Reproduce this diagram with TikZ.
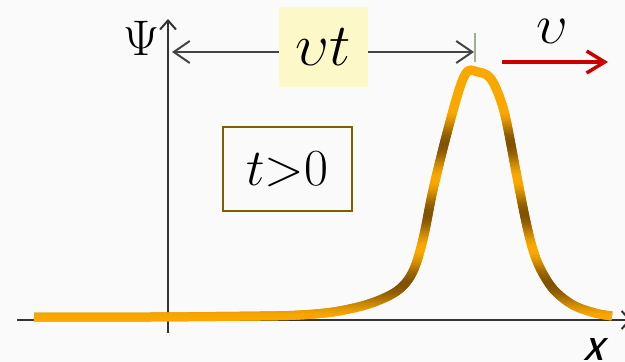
\RequirePackage{fix-cm}
\documentclass[tikz,border=0pt]{standalone}
\usepackage{fontspec}
\newfontfamily\calibi{Carlito}[FakeSlant=0.28]
\usetikzlibrary{arrows.meta}
\definecolor{bg}{RGB}{250,250,250}
\definecolor{axisc}{RGB}{51,51,51}
\definecolor{dimc}{RGB}{68,68,68}
\definecolor{tickc}{RGB}{160,176,140}
\definecolor{vtbg}{RGB}{253,248,200}
\definecolor{boxc}{RGB}{127,96,0}
\definecolor{redc}{RGB}{204,0,0}
\definecolor{bright}{RGB}{250,168,0}
\definecolor{dkbrown}{RGB}{128,82,0}
\tikzset{
  axisline/.style={draw=axisc, line width=2pt},
  dimline/.style={draw=dimc, line width=2pt},
  wave/.style={line width=9pt, line join=round, line cap=butt},
  wavepath/.style={insert path={plot[smooth, tension=0.55] coordinates {
    (34,317) (150,317) (260,316) (300,315) (333,312) (362,306) (382,299) (397,291)
    (408,280) (416,264) (424,235) (433,190) (447,133) (460,87) (468,71) (478,72) (487,75) (495,86)
    (505,115) (517,177) (526,222) (533,250) (541,270) (554,290) (573,305) (595,313) (612,316)}}}
}
\begin{document}
\begin{tikzpicture}[x=1pt, y=-1pt]
\fill[bg] (0,0) rectangle (625,362);
\useasboundingbox (0,0) rectangle (625,362);

% axes
\coordinate (xs) at (17,320);
\coordinate (xe) at (631,320);
\coordinate (ys) at (168,333);
\coordinate (ye) at (168,19);
\draw[axisline, -{Straight Barb[length=8pt, width=18pt]}] (xs) -- (xe);
\draw[axisline, -{Straight Barb[length=9pt, width=16pt]}] (ys) -- (ye);
\node[inner sep=0pt] (psi) at (141,38) {\fontsize{50}{54}\selectfont $\Psi$};
\node[inner sep=0pt] (xl) at (593,350) {\fontsize{46}{50}\selectfont\calibi x};

% dimension arrow
\coordinate (da) at (172,52);
\coordinate (db) at (474,52);
\draw[dimline, {Straight Barb[length=16pt, width=22pt]}-{Straight Barb[length=16pt, width=22pt]}] (da) -- (db);
\coordinate (ta) at (475,33);
\coordinate (tb) at (475,62);
\draw[draw=tickc, line width=1.6pt] (ta) -- (tb);
\node[fill=vtbg, inner sep=0pt, minimum width=89pt, minimum height=80pt] (vt) at (323.5,47)
  {\fontsize{60}{62}\selectfont $\upsilon t$};

% t>0 box
\node[draw=boxc, line width=2pt, fill=bg, inner sep=0pt, minimum width=129pt, minimum height=84pt] (tb0) at (287.5,169)
  {\fontsize{52}{56}\selectfont $t{>}0$};

% velocity arrow
\coordinate (ra) at (502,62);
\coordinate (rb) at (608,62);
\draw[draw=redc, line width=3.5pt, -{Straight Barb[length=18pt, width=22pt]}] (ra) -- (rb);
\node[inner sep=0pt] (vl) at (552,31) {\fontsize{56}{58}\selectfont $\upsilon$};

% pulse with banded gradient
\foreach \yy in {60,62,...,326} {
  \pgfmathtruncatemacro\fr{\yy<110 ? 0 : 50*(1+cos(5.142857*(\yy-144)))}
  \colorlet{cc}{dkbrown!\fr!bright}
  \begin{scope}
    \clip (0,\yy-0.5) rectangle (625,\yy+2.5);
    \draw[wave, draw=cc, wavepath];
  \end{scope}
}
\end{tikzpicture}
\end{document}
